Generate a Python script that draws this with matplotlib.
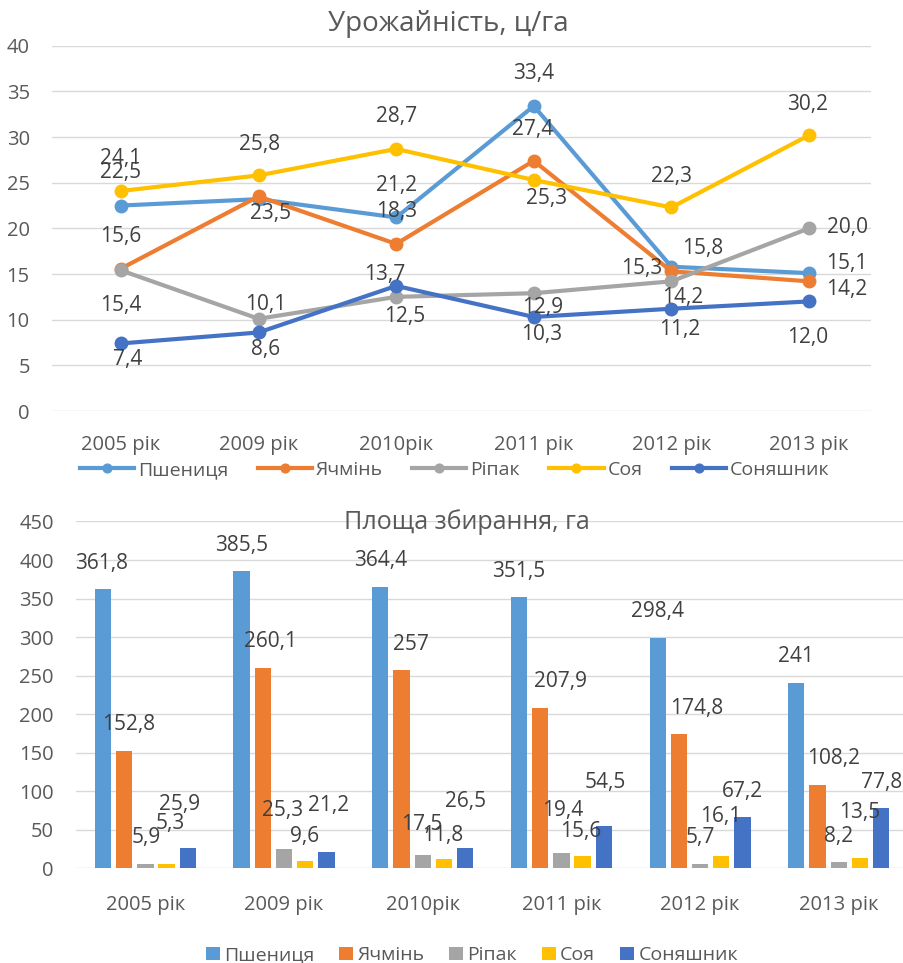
import numpy as np
import matplotlib.pyplot as plt

plt.rcParams['font.family'] = ['Open Sans', 'DejaVu Sans']

# --- data ---------------------------------------------------------------
years = ['2005 рік', '2009 рік', '2010рік', '2011 рік', '2012 рік', '2013 рік']
crops = ['Пшениця', 'Ячмінь', 'Ріпак', 'Соя', 'Соняшник']

# yield, centner per hectare
yield_wheat = [22.5, 23.2, 21.2, 33.4, 15.8, 15.1]
yield_barley = [15.6, 23.5, 18.3, 27.4, 15.3, 14.2]
yield_rapeseed = [15.4, 10.1, 12.5, 12.9, 14.2, 20.0]
yield_soy = [24.1, 25.8, 28.7, 25.3, 22.3, 30.2]
yield_sunflower = [7.4, 8.6, 13.7, 10.3, 11.2, 12.0]

# harvested area, hectares
area_wheat = [361.8, 385.5, 364.4, 351.5, 298.4, 241]
area_barley = [152.8, 260.1, 257, 207.9, 174.8, 108.2]
area_rapeseed = [5.9, 25.3, 17.5, 19.4, 5.7, 8.2]
area_soy = [5.3, 9.6, 11.8, 15.6, 16.1, 13.5]
area_sunflower = [25.9, 21.2, 26.5, 54.5, 67.2, 77.8]

yields = [yield_wheat, yield_barley, yield_rapeseed, yield_soy, yield_sunflower]
areas = [area_wheat, area_barley, area_rapeseed, area_soy, area_sunflower]

colors = ['#5B9BD5', '#ED7D31', '#A5A5A5', '#FFC000', '#4472C4']
text_grey = '#595959'
label_grey = '#404040'
grid_grey = '#D9D9D9'

# label offsets in pixels (dx, dy with dy measured downwards); None = no label
line_label_offsets = [
    [(0, -33), None, (0, -32), (0, -33), (31, -18), (38, -10)],
    [(0, -32), (12, 17), (0, -32), (-1, -31), (-30, -3), (38, 8)],
    [(0, 35), (7, -14), (8, 20), (9, 14), (11, 16), (38, -1)],
    [(0, -32), (1, -31), (0, -32), (13, 19), (0, -31), (-1, -31)],
    [(7, 16), (7, 17), (-12, -11), (8, 18), (8, 21), (-1, 36)],
]
bar_label_offsets = [
    [(-1, -26), (0, -26), (0, -27), (0, -26), (0, -27), (0, -26)],
    [(4, -26), (8, -26), (9, -26), (20, -27), (18, -25), (16, -26)],
    [(1, -26), (-1, -38), (-1, -30), (1, -43), (0, -26), (0, -26)],
    [(4, -41), (-1, -24), (-1, -24), (-2, -25), (-1, -39), (0, -45)],
    [(-8, -44), (2, -46), (0, -46), (2, -44), (0, -25), (0, -26)],
]


def fmt_comma(v, fixed=True):
    if not fixed and float(v).is_integer():
        return str(int(v))
    return f'{v:.1f}'.replace('.', ',')


def style_axis(ax):
    for s in ax.spines.values():
        s.set_visible(False)
    ax.tick_params(length=0, colors=text_grey, labelsize=14.5)
    ax.yaxis.grid(True, color=grid_grey, linewidth=1.0)
    ax.set_axisbelow(True)


fig = plt.figure(figsize=(9.04, 9.63), dpi=100, facecolor='white')
x = np.arange(len(years))

# --- top: yield lines ---------------------------------------------------
ax1 = fig.add_axes([0.0575, 0.5732, 0.906, 0.3793])
style_axis(ax1)
for i, (name, vals) in enumerate(zip(crops, yields)):
    ax1.plot(x, vals, color=colors[i], linewidth=3, marker='o',
             markersize=9, label=name, zorder=3 + i)
    for j, v in enumerate(vals):
        off = line_label_offsets[i][j]
        if off is None:
            continue
        ax1.annotate(fmt_comma(v), (x[j], v), xytext=(off[0], -off[1]),
                     textcoords='offset pixels', ha='center', va='center',
                     fontsize=15, color=label_grey, zorder=20)
ax1.set_xlim(-0.5015, 5.4506)
ax1.set_ylim(0, 40)
ax1.set_yticks(range(0, 41, 5))
ax1.set_xticks(x)
ax1.set_xticklabels(years)
ax1.tick_params(axis='x', pad=17)
ax1.tick_params(axis='y', pad=16)
fig.text(0.496, 0.975, 'Урожайність, ц/га', ha='center', va='center',
         fontsize=20, color=text_grey)
fig.legend(handles=ax1.get_lines(), loc='center', ncol=5,
           bbox_to_anchor=(0.503, 0.512), frameon=False, fontsize=14,
           handlelength=2.8, handletextpad=0.2, columnspacing=1.5,
           markerscale=0.7, labelcolor=text_grey)

# --- bottom: harvested area bars ----------------------------------------
ax2 = fig.add_axes([0.0841, 0.0983, 0.9204, 0.3602])
style_axis(ax2)
step = 0.1529
width = 0.1175
bar_handles = []
for i, (name, vals) in enumerate(zip(crops, areas)):
    pos = x + (i - 2) * step
    bars = ax2.bar(pos, vals, width=width, color=colors[i], label=name,
                   zorder=2)
    bar_handles.append(bars)
    for j, v in enumerate(vals):
        off = bar_label_offsets[i][j]
        ax2.annotate(fmt_comma(v, fixed=False), (pos[j], v),
                     xytext=(off[0], -off[1]), textcoords='offset pixels',
                     ha='center', va='center', fontsize=15,
                     color=label_grey, zorder=20)
ax2.set_xlim(-0.5, 5.5)
ax2.set_ylim(0, 450)
ax2.set_yticks(range(0, 451, 50))
ax2.set_xticks(x)
ax2.set_xticklabels(years)
ax2.tick_params(axis='x', pad=19)
ax2.tick_params(axis='y', pad=16)
fig.text(0.516, 0.458, 'Площа збирання, га', ha='center', va='center',
         fontsize=18, color=text_grey)
fig.legend(handles=bar_handles, labels=crops, loc='center', ncol=5,
           bbox_to_anchor=(0.522, 0.008), frameon=False, fontsize=14,
           handlelength=0.72, handleheight=0.72, handletextpad=0.2,
           columnspacing=1.3, labelcolor=text_grey)

fig.savefig('out.png', dpi=100, facecolor='white')
